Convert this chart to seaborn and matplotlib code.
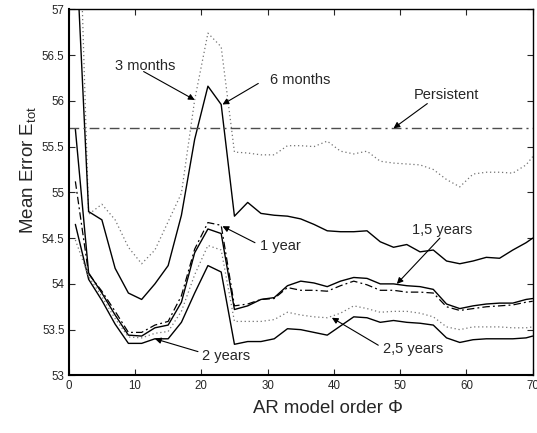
import matplotlib
matplotlib.use("Agg")
import matplotlib.pyplot as plt
import seaborn as sns
import pandas as pd

# ---------------- data ----------------
ar_order = [1, 3, 5, 7, 9, 11, 13, 15, 17, 19, 21, 23, 25, 27, 29, 31, 33, 35,
            37, 39, 41, 43, 45, 47, 49, 51, 53, 55, 57, 59, 61, 63, 65, 67, 69, 70]

err_3m = [59.5, 54.76, 54.87, 54.70, 54.40, 54.22, 54.37, 54.68, 54.99, 56.01,
          56.74, 56.59, 55.44, 55.43, 55.41, 55.41, 55.51, 55.51, 55.50, 55.56,
          55.45, 55.42, 55.45, 55.34, 55.32, 55.31, 55.30, 55.25, 55.14, 55.06,
          55.20, 55.22, 55.22, 55.21, 55.30, 55.39]
err_6m = [57.85, 54.79, 54.70, 54.17, 53.90, 53.83, 54.00, 54.20, 54.75, 55.58,
          56.16, 55.96, 54.74, 54.89, 54.77, 54.75, 54.74, 54.71, 54.65, 54.58,
          54.57, 54.57, 54.58, 54.46, 54.40, 54.43, 54.35, 54.37, 54.25, 54.22,
          54.25, 54.29, 54.28, 54.37, 54.45, 54.50]
err_1y = [55.12, 54.11, 53.92, 53.70, 53.47, 53.47, 53.55, 53.59, 53.87, 54.38,
          54.67, 54.64, 53.76, 53.78, 53.83, 53.84, 53.96, 53.93, 53.93, 53.92,
          53.98, 54.03, 53.99, 53.93, 53.93, 53.91, 53.91, 53.90, 53.75, 53.71,
          53.73, 53.75, 53.76, 53.77, 53.80, 53.81]
err_15y = [55.69, 54.12, 53.90, 53.66, 53.44, 53.43, 53.52, 53.55, 53.80, 54.34,
           54.60, 54.55, 53.72, 53.76, 53.83, 53.85, 53.98, 54.03, 54.01, 53.97,
           54.03, 54.07, 54.06, 54.00, 54.00, 53.98, 53.97, 53.94, 53.78, 53.73,
           53.76, 53.78, 53.79, 53.79, 53.83, 53.84]
err_2y = [54.65, 54.05, 53.82, 53.56, 53.35, 53.35, 53.40, 53.40, 53.58, 53.90,
          54.20, 54.13, 53.34, 53.37, 53.37, 53.40, 53.51, 53.50, 53.47, 53.44,
          53.54, 53.64, 53.63, 53.58, 53.60, 53.58, 53.57, 53.55, 53.41, 53.36,
          53.39, 53.40, 53.40, 53.40, 53.41, 53.43]
err_25y = [54.48, 54.08, 53.86, 53.62, 53.42, 53.41, 53.46, 53.48, 53.70, 54.10,
           54.42, 54.37, 53.59, 53.59, 53.59, 53.61, 53.69, 53.66, 53.64, 53.63,
           53.68, 53.76, 53.73, 53.69, 53.70, 53.70, 53.68, 53.64, 53.53, 53.50,
           53.53, 53.53, 53.53, 53.52, 53.52, 53.53]
persistent = 55.7

x_ticks = [0, 10, 20, 30, 40, 50, 60, 70]
y_ticks = [53, 53.5, 54, 54.5, 55, 55.5, 56, 56.5, 57]
y_tick_labels = ["53", "53.5", "54", "54.5", "55", "55.5", "56", "56.5", "57"]

# ---------------- style ----------------
sns.set_theme(style="white")
plt.rcParams["font.family"] = ["Liberation Sans", "DejaVu Sans"]
plt.rcParams["mathtext.fontset"] = "custom"
plt.rcParams["mathtext.rm"] = "Liberation Sans"
plt.rcParams["mathtext.default"] = "regular"

fig = plt.figure(figsize=(5.37, 4.33), dpi=100)
ax = fig.add_axes([0.128, 0.133, 0.864, 0.8455])

df = pd.DataFrame({"x": ar_order, "3m": err_3m, "6m": err_6m, "1y": err_1y,
                   "15y": err_15y, "2y": err_2y, "25y": err_25y})

styles = {
    "3m": dict(color="0.45", linestyle=(0, (1, 2.2)), lw=0.9),
    "6m": dict(color="black", linestyle="-", lw=1.0),
    "1y": dict(color="black", linestyle=(0, (6, 2.5, 1.5, 2.5)), lw=0.9),
    "15y": dict(color="black", linestyle="-", lw=1.0),
    "2y": dict(color="black", linestyle="-", lw=1.0),
    "25y": dict(color="0.45", linestyle=(0, (1, 2.2)), lw=0.9),
}
for key, st in styles.items():
    sns.lineplot(data=df, x="x", y=key, ax=ax, legend=False, **st)

ax.axhline(persistent, color="0.3", lw=1.0, linestyle=(0, (7, 3, 1.5, 3)))

ax.set_xlim(0, 70)
ax.set_ylim(53, 57)
ax.set_xticks(x_ticks)
ax.set_xticklabels([str(t) for t in x_ticks])
ax.set_yticks(y_ticks)
ax.set_yticklabels(y_tick_labels)
ax.tick_params(direction="in", length=4, width=0.8, labelsize=8.3,
               top=True, right=True, bottom=True, left=True, pad=3)
for s in ax.spines.values():
    s.set_color("black")
    s.set_linewidth(1.0)
ax.spines["left"].set_linewidth(1.5)
ax.spines["bottom"].set_linewidth(1.5)

ax.set_xlabel("AR model order \u03a6", fontsize=13.4)
ax.set_ylabel("Mean Error E$_{tot}$", fontsize=13.5)
ax.xaxis.set_label_coords(0.559, -0.067)
ax.yaxis.set_label_coords(-0.066, 0.561)

arrow = dict(arrowstyle="-|>", color="black", lw=0.8, mutation_scale=9,
             shrinkA=0, shrinkB=0)
fs = 10.5
ax.annotate("", xy=(19.0, 56.01), xytext=(11.3, 56.32), arrowprops=arrow)
ax.text(11.5, 56.38, "3 months", fontsize=fs, ha="center", va="center")
ax.annotate("", xy=(23.2, 55.96), xytext=(28.6, 56.19), arrowprops=arrow)
ax.text(34.9, 56.23, "6 months", fontsize=fs, ha="center", va="center")
ax.annotate("", xy=(49.0, 55.70), xytext=(54.1, 55.97), arrowprops=arrow)
ax.text(57.0, 56.06, "Persistent", fontsize=fs, ha="center", va="center")
ax.annotate("", xy=(23.2, 54.63), xytext=(28.1, 54.45), arrowprops=arrow)
ax.text(31.9, 54.41, "1 year", fontsize=fs, ha="center", va="center")
ax.annotate("", xy=(49.5, 54.0), xytext=(56.0, 54.50), arrowprops=arrow)
ax.text(56.4, 54.59, "1,5 years", fontsize=fs, ha="center", va="center")
ax.annotate("", xy=(39.7, 53.63), xytext=(46.7, 53.33), arrowprops=arrow)
ax.text(51.9, 53.29, "2,5 years", fontsize=fs, ha="center", va="center")
ax.annotate("", xy=(13.0, 53.40), xytext=(19.5, 53.26), arrowprops=arrow)
ax.text(23.8, 53.21, "2 years", fontsize=fs, ha="center", va="center")

fig.savefig("out.png", dpi=100)
